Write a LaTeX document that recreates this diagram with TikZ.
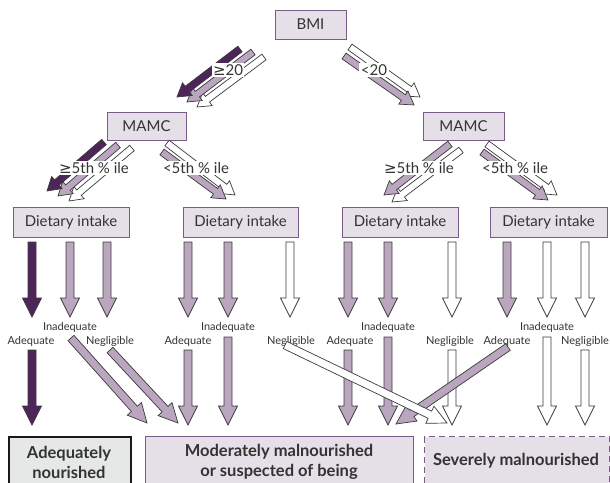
\documentclass[tikz,border=0pt]{standalone}
\usepackage{fontspec}
\setmainfont{Lato}
\newfontfamily\symfont{DejaVu Sans}
\usetikzlibrary{calc}

\definecolor{boxfill}{HTML}{E5DFE7}
\definecolor{boxline}{HTML}{7B5C87}
\definecolor{darkarrow}{HTML}{4E2558}
\definecolor{midarrow}{HTML}{BAA6BE}
\definecolor{outline}{HTML}{3A3A3A}
\definecolor{greyfill}{HTML}{E6E8E8}
\definecolor{ink}{HTML}{333333}

\newcommand\atleast{{\symfont ≥}}

% block arrow: style, start, tip, half shaft width, half head width, head length
\newcommand\blockarrow[6]{%
  \coordinate (ba-b) at ($(#3)!#6!(#2)$);
  \draw[#1] ($(#2)!#4!90:(#3)$) -- ($(ba-b)!#4!90:(#3)$) -- ($(ba-b)!#5!90:(#3)$)
    -- (#3) -- ($(ba-b)!#5!-90:(#3)$) -- ($(ba-b)!#4!-90:(#3)$)
    -- ($(#2)!#4!-90:(#3)$) -- cycle;}
\newcommand\smallarrow[3]{\blockarrow{#1}{#2}{#3}{3.5pt}{8pt}{13pt}}
\newcommand\bigarrow[3]{\blockarrow{#1}{#2}{#3}{4pt}{9.5pt}{19pt}}

\tikzset{
  box/.style={draw=boxline, fill=boxfill, line width=0.8pt, inner sep=0pt,
    font=\fontsize{15}{17}\selectfont, text=ink},
  lbl/.style={fill=white, inner sep=1.5pt, font=\fontsize{15}{17}\selectfont, text=ink},
  small/.style={inner sep=0pt, font=\fontsize{11}{13}\selectfont, text=ink},
  result/.style={inner sep=0pt, font=\fontsize{16.5}{20}\selectfont\bfseries, text=ink, align=center},
  darka/.style={draw=outline, fill=darkarrow, line width=0.7pt, line join=miter},
  mida/.style={draw=outline, fill=midarrow, line width=0.7pt, line join=miter},
  whitea/.style={draw=outline, fill=white, line width=0.7pt, line join=miter},
}

\begin{document}
\begin{tikzpicture}[x=1pt, y=-1pt]
\clip (0,0) rectangle (610,482);
\useasboundingbox (0,0) rectangle (610,482);

% decision boxes
\node[box, minimum width=71pt, minimum height=29pt] (bmi) at (310.5,24.5) {BMI};
\node[box, minimum width=79pt, minimum height=28pt] (mamcL) at (146.5,126) {MAMC};
\node[box, minimum width=81pt, minimum height=28pt] (mamcR) at (463.5,126) {MAMC};
\node[box, minimum width=116pt, minimum height=30pt] (d1) at (71,222) {Dietary intake};
\node[box, minimum width=115pt, minimum height=30pt] (d2) at (240.5,222) {Dietary intake};
\node[box, minimum width=116pt, minimum height=30pt] (d3) at (400,222) {Dietary intake};
\node[box, minimum width=117pt, minimum height=30pt] (d4) at (548.5,222) {Dietary intake};

% outcome boxes
\node[draw=black!90, fill=greyfill, line width=1.8pt, minimum width=122pt, minimum height=60pt,
  anchor=north west, inner sep=0pt] (adeq) at (8,436) {};
\node[draw=boxline, fill=boxfill, line width=1pt, minimum width=268pt, minimum height=60pt,
  anchor=north west, inner sep=0pt] (mod) at (145,436) {};
\node[draw=boxline, fill=boxfill, line width=1.2pt, dash pattern=on 6pt off 4pt,
  minimum width=185pt, minimum height=60pt, anchor=north west, inner sep=0pt] (sev) at (424,436) {};
\node[result] (adeqT) at (69,462) {Adequately\\nourished};
\node[result] (modT) at (279,462) {Moderately malnourished\\or suspected of being};
\node[result] (sevT) at (516,461) {Severely malnourished};

% BMI split
\coordinate (b1s) at (264,57);  \coordinate (b1e) at (197,107);
\coordinate (b2s) at (253,52);  \coordinate (b2e) at (187,102);
\coordinate (b3s) at (240,49);  \coordinate (b3e) at (177,97);
\coordinate (b4s) at (350,47);  \coordinate (b4e) at (420,97);
\coordinate (b5s) at (344,56);  \coordinate (b5e) at (414,105);
\smallarrow{whitea}{b1s}{b1e}
\smallarrow{mida}{b2s}{b2e}
\smallarrow{darka}{b3s}{b3e}
\smallarrow{whitea}{b4s}{b4e}
\smallarrow{mida}{b5s}{b5e}
\node[lbl] (ge20) at (228,70) {\atleast20};
\node[lbl] (lt20) at (374,70) {<20};

% left MAMC split
\coordinate (m1s) at (132,148); \coordinate (m1e) at (69,201);
\coordinate (m2s) at (118,145); \coordinate (m2e) at (58,196);
\coordinate (m3s) at (104,142); \coordinate (m3e) at (47,191);
\coordinate (m4s) at (167,143); \coordinate (m4e) at (235,195);
\coordinate (m5s) at (162,152); \coordinate (m5e) at (226,199);
\smallarrow{whitea}{m1s}{m1e}
\smallarrow{mida}{m2s}{m2e}
\smallarrow{darka}{m3s}{m3e}
\smallarrow{whitea}{m4s}{m4e}
\smallarrow{mida}{m5s}{m5e}
\node[lbl] (geL) at (94,168) {\atleast5th \% ile};
\node[lbl] (ltL) at (196,168) {<5th \% ile};

% right MAMC split
\coordinate (n1s) at (461,150); \coordinate (n1e) at (392,202);
\coordinate (n2s) at (450,144); \coordinate (n2e) at (384,195);
\coordinate (n3s) at (487,144); \coordinate (n3e) at (557,195);
\coordinate (n4s) at (482,152); \coordinate (n4e) at (548,200);
\smallarrow{whitea}{n1s}{n1e}
\smallarrow{mida}{n2s}{n2e}
\smallarrow{whitea}{n3s}{n3e}
\smallarrow{mida}{n4s}{n4e}
\node[lbl] (geR) at (419,168) {\atleast5th \% ile};
\node[lbl] (ltR) at (515,168) {<5th \% ile};

% arrows leaving the dietary intake boxes
\foreach \x/\s [count=\i] in {32/darka,70/mida,107/mida,188/mida,228/mida,290/whitea,
    348/mida,388/mida,452/whitea,507/mida,547/whitea,585/whitea}{
  \coordinate (u\i s) at (\x,242);
  \coordinate (u\i e) at (\x,317);
  \bigarrow{\s}{u\i s}{u\i e}
}

% intake labels
\foreach \x [count=\i] in {70,228,388,547}
  \node[small] (inad\i) at (\x,327) {Inadequate};
\foreach \x [count=\i] in {31,188,350,507}
  \node[small] (adq\i) at (\x,341) {Adequate};
\foreach \x [count=\i] in {110,291,450,585}
  \node[small] (negl\i) at (\x,341) {Negligible};

% arrows into the outcome boxes
\coordinate (l1s) at (32,350);   \coordinate (l1e) at (32,425);
\coordinate (l2s) at (71,338);   \coordinate (l2e) at (147,423);
\coordinate (l3s) at (110,350);  \coordinate (l3e) at (178,423);
\coordinate (l4s) at (188,350);  \coordinate (l4e) at (188,425);
\coordinate (l5s) at (228,337);  \coordinate (l5e) at (228,425);
\coordinate (l6s) at (285,345);  \coordinate (l6e) at (447,423);
\coordinate (l7s) at (348,350);  \coordinate (l7e) at (348,425);
\coordinate (l8s) at (388,337);  \coordinate (l8e) at (388,425);
\coordinate (l9s) at (452,350);  \coordinate (l9e) at (452,425);
\coordinate (l10s) at (508,347); \coordinate (l10e) at (396,424);
\coordinate (l11s) at (547,337); \coordinate (l11e) at (547,425);
\coordinate (l12s) at (585,350); \coordinate (l12e) at (585,425);
\bigarrow{darka}{l1s}{l1e}
\bigarrow{mida}{l2s}{l2e}
\bigarrow{mida}{l3s}{l3e}
\bigarrow{mida}{l4s}{l4e}
\bigarrow{mida}{l5s}{l5e}
\bigarrow{mida}{l7s}{l7e}
\bigarrow{mida}{l8s}{l8e}
\bigarrow{whitea}{l9s}{l9e}
\bigarrow{mida}{l10s}{l10e}
\bigarrow{whitea}{l6s}{l6e}
\bigarrow{whitea}{l11s}{l11e}
\bigarrow{whitea}{l12s}{l12e}
\end{tikzpicture}
\end{document}
